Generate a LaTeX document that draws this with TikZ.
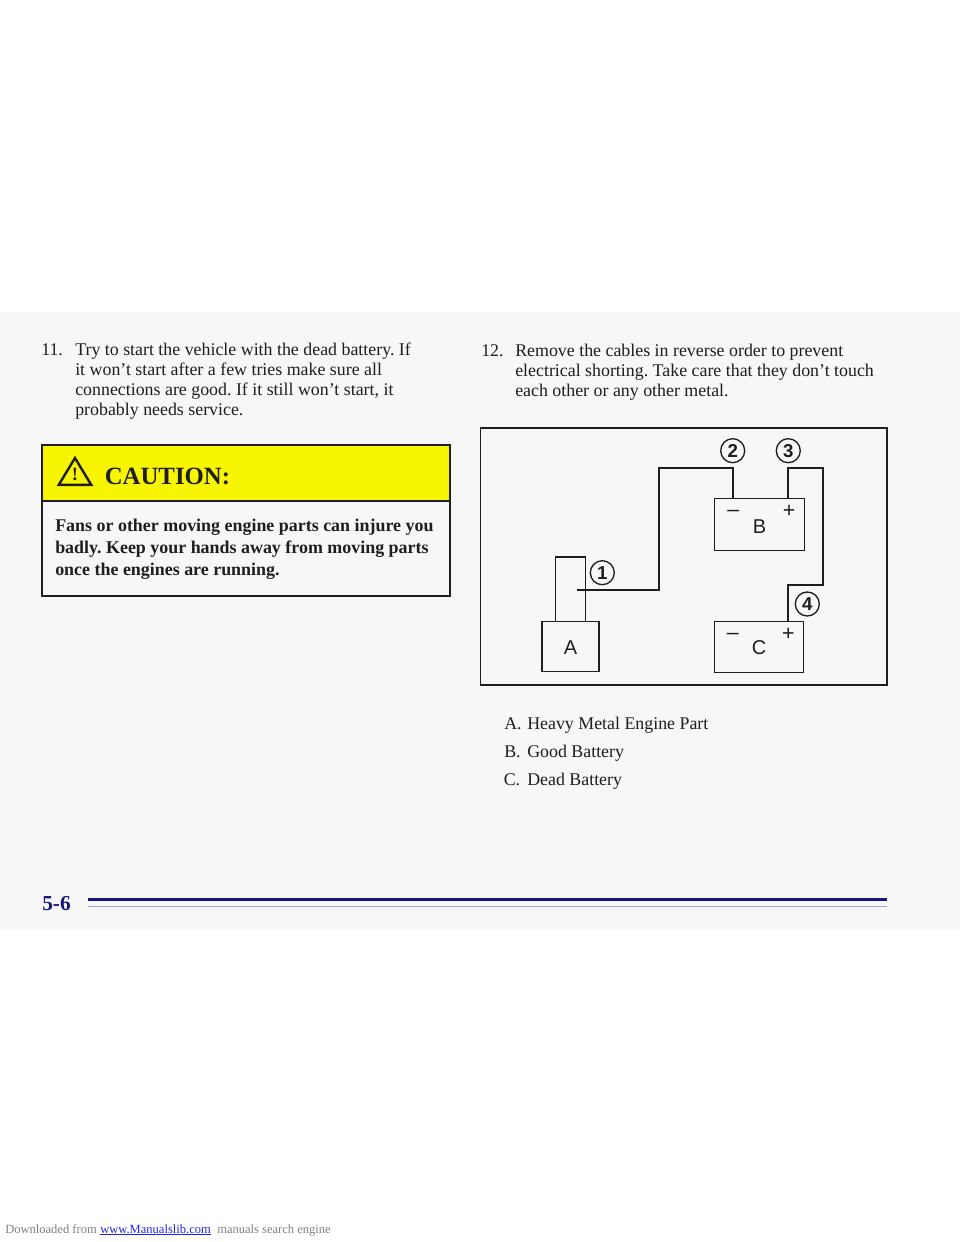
\documentclass[tikz,border=0pt]{standalone}
\usepackage{fontspec}
\setmainfont{Liberation Serif}
\setsansfont{Liberation Sans}
\usepackage{tikz}
\usetikzlibrary{positioning}
\definecolor{ePage}{HTML}{F7F7F8}
\definecolor{eInk}{HTML}{1E1E1E}
\definecolor{eYellow}{HTML}{F8F500}
\definecolor{eNavy}{HTML}{12187E}
\definecolor{ePale}{HTML}{A4A4C4}
\definecolor{eGrey}{HTML}{808080}
\definecolor{eLink}{HTML}{2222EE}
\tikzset{txt/.style={anchor=base west, inner sep=0pt, text=eInk, font=\frenchspacing\fontsize{13.4}{16}\selectfont}}
\tikzset{warn/.style={txt, font=\frenchspacing\bfseries\fontsize{13.45}{16}\selectfont}}
\tikzset{foot/.style={anchor=base west, inner sep=0pt, text=eGrey, font=\fontsize{9.4}{11}\selectfont}}
\tikzset{bx/.style={draw=eInk, line width=.8pt, inner sep=0pt, text=eInk, text depth=0pt, font=\sffamily\fontsize{15}{17}\selectfont}}
\tikzset{sgn/.style={inner sep=0pt, text=eInk, font=\sffamily\fontsize{16}{18}\selectfont}}
\tikzset{num/.style={circle, draw=eInk, line width=1pt, inner sep=0pt, minimum size=18pt, text=eInk, font=\sffamily\bfseries\fontsize{14}{16}\selectfont}}
\tikzset{wire/.style={draw=eInk, line width=1.5pt, line join=miter}}
\tikzset{thin wire/.style={draw=eInk, line width=.8pt}}
\begin{document}
\begin{tikzpicture}[x=.75pt,y=-.75pt]
    \useasboundingbox (0,0) rectangle (960,1242);
    \fill[white] (0,0) rectangle (960,1242);
    \fill[ePage] (0,312) rectangle (960,930);
    %% left column
    \node (n11) at (41,355) [txt] {11.};
    \node (l1) at (75,355) [txt] {Try to start the vehicle with the dead battery. If};
    \node (l2) at (75,375) [txt] {it won't start after a few tries make sure all};
    \node (l3) at (75,395) [txt] {connections are good. If it still won't start, it};
    \node (l4) at (75,415) [txt] {probably needs service.};
    %% caution box
    \fill[eYellow] (42,445) rectangle (450,501);
    \draw[eInk, line width=1.5pt] (42,445) rectangle (450,595.7);
    \draw[eInk, line width=1.5pt] (42,501) -- (450,501);
    \draw[eInk, line width=1.8pt, line join=miter] (75,458) -- (91.2,484.8) -- (58.8,484.8) -- cycle;
    \node (bang) at (75,474.5) [inner sep=0pt, text=eInk, font=\bfseries\fontsize{14}{16}\selectfont] {!};
    \node (ctn) at (104.5,484.5) [anchor=base west, inner sep=0pt, text=eInk, font=\bfseries\fontsize{18.6}{22}\selectfont] {CAUTION:};
    \node (w1) at (55,531) [warn] {Fans or other moving engine parts can injure you};
    \node (w2) at (55,553) [warn] {badly. Keep your hands away from moving parts};
    \node (w3) at (55,575) [warn] {once the engines are running.};
    %% right column
    \node (n12) at (481,356) [txt] {12.};
    \node (r1) at (515,356) [txt] {Remove the cables in reverse order to prevent};
    \node (r2) at (515,376) [txt] {electrical shorting. Take care that they don't touch};
    \node (r3) at (515,396) [txt] {each other or any other metal.};
    %% jumper diagram
    \draw[eInk, line width=1.4pt] (480.5,428) rectangle (886.7,685);
    \node (a) at (570.5,646.4) [bx, text height=11.4pt, minimum width=42.75pt, minimum height=38pt] {A};
    \node (b) at (759.6,524.2) [bx, text height=14.2pt, minimum width=67pt, minimum height=39pt] {B};
    \node (c) at (759.2,646.8) [bx, text height=12.2pt, minimum width=67pt, minimum height=38pt] {C};
    \coordinate (sl) at (555.7,621);
    \coordinate (sr) at (585.3,621);
    \coordinate (st) at (585.3,557);
    \coordinate (p1) at (576.7,590);
    \coordinate (k1) at (658.7,468.3);
    \coordinate (bneg) at (733.3,498.3);
    \coordinate (bpos) at (788.3,498.3);
    \coordinate (k2) at (823.3,468.3);
    \coordinate (k3) at (788.3,585);
    \coordinate (cpos) at (788.3,621.7);
    \draw [thin wire] (sl) |- (st) -- (sr);
    \draw [wire] (p1) -| (k1) -| (bneg);
    \draw [wire] (bpos) |- (k2) |- (k3) -- (cpos);
    \node (m1) at (733.3,513) [sgn] {--};
    \node (m2) at (789,511) [sgn] {+};
    \node (m3) at (732.7,636.3) [sgn] {--};
    \node (m4) at (788.3,634.3) [sgn] {+};
    \node (c1) at (602.3,572.7) [num] {1};
    \node (c2) at (732.7,450.7) [num] {2};
    \node (c3) at (788.3,450.7) [num] {3};
    \node (c4) at (807.3,604) [num] {4};
    %% legend
    \node (ka) at (504,729) [txt] {A.};
    \node (kat) at (527,729) [txt] {Heavy Metal Engine Part};
    \node (kb) at (504,757) [txt] {B.};
    \node (kbt) at (527,757) [txt] {Good Battery};
    \node (kc) at (503.5,785) [txt] {C.};
    \node (kct) at (527,785) [txt] {Dead Battery};
    %% page number and rule
    \node (pg) at (42,910.5) [anchor=base west, inner sep=0pt, text=eNavy, font=\bfseries\fontsize{16}{18}\selectfont] {5-6};
    \coordinate (h1) at (88,899.5);
    \coordinate (h2) at (887,899.5);
    \coordinate (h3) at (88,906.5);
    \coordinate (h4) at (887,906.5);
    \draw [eNavy, line width=2pt] (h1) -- (h2);
    \draw [ePale, line width=1.3pt] (h3) -- (h4);
    %% download line
    \node (d1) at (5,1233) [foot] {Downloaded from};
    \node (d2) at (100,1233) [foot, text=eLink] {www.Manualslib.com};
    \node (d3) at (217,1233) [foot] {manuals search engine};
    \draw [eLink, line width=.6pt] ([yshift=-1.2pt]d2.base west) -- ([yshift=-1.2pt]d2.base east);
\end{tikzpicture}
\end{document}
